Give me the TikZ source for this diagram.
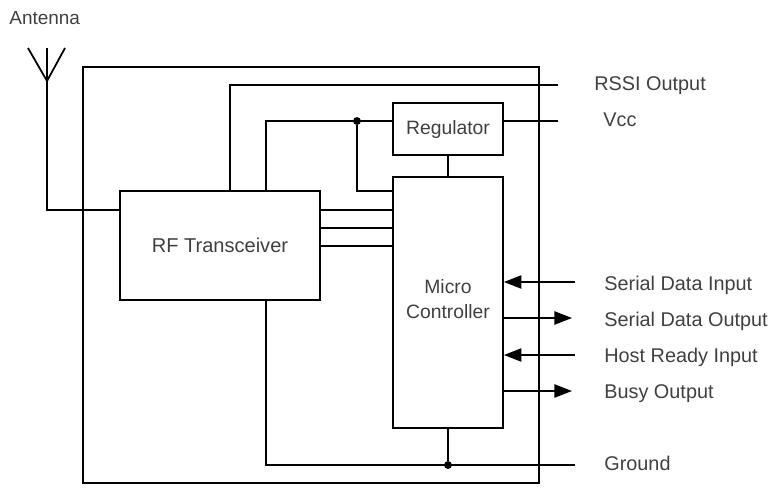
\documentclass[tikz,border=0pt]{standalone}
\usepackage{fontspec}
\setmainfont{Liberation Sans}
\usetikzlibrary{arrows.meta,positioning,calc}

\begin{document}
\begin{tikzpicture}[
      x=0.02cm,
      y=-0.02cm,
      block/.style={
        draw,
        fill=white,
        line width=1pt,
        inner sep=0pt,
        align=center,
        font=\fontsize{11}{14.2}\selectfont,
        text=black!75
      },
      wire/.style={line width=1pt},
      sig/.style={wire, -{Triangle[length=10pt,width=7.5pt]}},
      pin/.style={
        anchor=west,
        inner sep=0pt,
        font=\fontsize{11.3}{14}\selectfont,
        text=black!75
      },
      joint/.style={circle, fill=black, inner sep=0pt, minimum size=4.5pt}
    ]
    \useasboundingbox (0,0) rectangle (770,487);

    % Outer module outline, drawn first so the blocks sit on top
    \node[draw, line width=1pt, minimum width=9.12cm, minimum height=8.32cm, inner sep=0pt] (module) at (311,275) {};

    % Blocks
    \node[block, minimum width=4cm, minimum height=2.18cm, font=\fontsize{11.4}{14}\selectfont] (rf) at (220,245.5) {RF Transceiver};
    \node[block, minimum width=2.2cm, minimum height=5.02cm] (mcu) at (448,302.5) {};
    \node[block, minimum width=2.2cm, minimum height=1.04cm] (reg) at (448,129) {Regulator};
    \node[inner sep=0pt, align=center, font=\fontsize{11}{14.2}\selectfont, text=black!75] (mcuLabel) at (448,299) {Micro\\Controller};

    % Free ends
    \coordinate (mast) at (47,81);
    \coordinate (tipL) at (28,48);
    \coordinate (tipM) at (47,48);
    \coordinate (tipR) at (65,48);
    \coordinate (rssiEnd) at (558,85);
    \coordinate (vccEnd) at (558,121);
    \coordinate (gndEnd) at (575,465);

    % Antenna
    \draw[wire] (tipL) -- (mast) -- (tipR);
    \draw[wire] (tipM) -- (mast);
    \draw[wire] (mast) |- (rf.west |- 0,210);

    % Supply and RSSI
    \draw[wire] (rf.north -| 230,0) |- (rssiEnd);
    \draw[wire] (rf.north -| 266,0) |- (reg.west |- 0,121);
    \node[joint] (vccJoint) at (357,121) {};
    \draw[wire] (vccJoint) |- (mcu.west |- 0,191);
    \draw[wire] (reg.east |- 0,121) -- (vccEnd);
    \draw[wire] (reg.south) -- (mcu.north);

    % Bus between transceiver and controller
    \foreach \busy in {210,228,246}
      \draw[wire] (rf.east |- 0,\busy) -- (mcu.west |- 0,\busy);

    % Ground
    \node[joint] (gndJoint) at (448,465) {};
    \draw[wire] (rf.south -| 266,0) |- (gndEnd);
    \draw[wire] (mcu.south) -- (gndJoint);

    % Host side signals
    \coordinate (sdiEnd) at (575,282);
    \coordinate (sdoEnd) at (572,318);
    \coordinate (hriEnd) at (575,355);
    \coordinate (busyEnd) at (572,391);
    \draw[sig] (sdiEnd) -- (mcu.east |- sdiEnd);
    \draw[sig] (mcu.east |- sdoEnd) -- (sdoEnd);
    \draw[sig] (hriEnd) -- (mcu.east |- hriEnd);
    \draw[sig] (mcu.east |- busyEnd) -- (busyEnd);

    % Labels
    \node[pin, font=\fontsize{10.8}{13}\selectfont] (antLabel) at (9,18) {Antenna};
    \node[pin] (rssiLabel) at (594,86) {RSSI Output};
    \node[pin] (vccLabel) at (603,120) {Vcc};
    \node[pin] (sdiLabel) at (604,285) {Serial Data Input};
    \node[pin] (sdoLabel) at (604,321) {Serial Data Output};
    \node[pin] (hriLabel) at (604,357) {Host Ready Input};
    \node[pin] (busyLabel) at (604,394) {Busy Output};
    \node[pin] (gndLabel) at (604,463) {Ground};
\end{tikzpicture}
\end{document}
